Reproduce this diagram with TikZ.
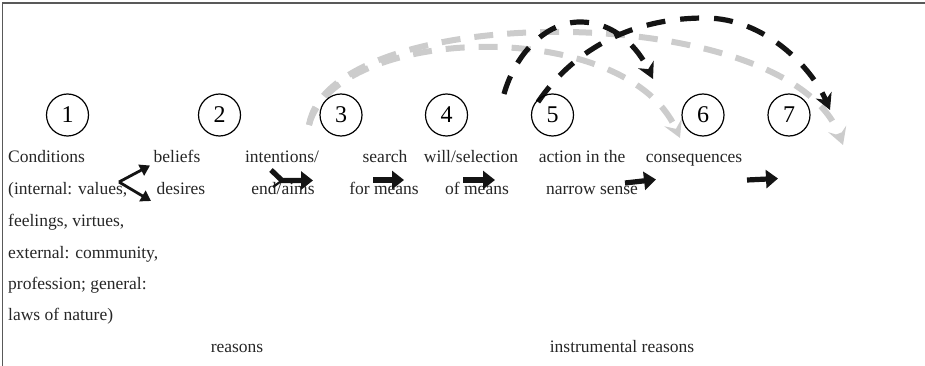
\documentclass[tikz,border=0pt]{standalone}
\usepackage{fontspec}
\setmainfont{Liberation Serif}
\usetikzlibrary{arrows.meta}
\begin{document}
\begin{tikzpicture}[x=1pt,y=-1pt,
  lbl/.style={inner sep=0pt, font=\fontsize{17.5}{21}\selectfont, text=black!85},
  num/.style={circle, draw, line width=1.2pt, minimum size=42pt, inner sep=0pt,
    font=\fontsize{24}{28}\selectfont},
  thickarr/.style={line width=5.2pt, draw=black!92, -{Triangle[length=12pt,width=18pt]}},
  thinarr/.style={line width=2.8pt, draw=black!92, -{Triangle[length=10pt,width=12pt]}},
  grayarc/.style={draw=black!20, line width=6pt, dash pattern=on 19pt off 14pt,
    -{Stealth[length=17pt,width=19pt,inset=7pt]}},
  blackarc/.style={draw=black!92, line width=5.2pt, dash pattern=on 19pt off 15pt,
    -{Stealth[length=16pt,width=17pt,inset=5pt]}},
]
\useasboundingbox (0,0) rectangle (925,366);
% frame
\draw[black!65, line width=1.3pt] (2.5,366) -- (2.5,3) -- (925,3);

% curved dashed connectors (drawn first, beneath the stage circles)
\coordinate (g0) at (309,125);
\coordinate (g1) at (680,138);
\coordinate (g2) at (843,145);
\coordinate (b0) at (504,94);
\coordinate (b1) at (653,79);
\coordinate (k0) at (538,102);
\coordinate (k1) at (830,110);

\draw[grayarc] (g0) .. controls (335,25) and (625,15) .. (g1);
\draw[grayarc] (g0) .. controls (330,0) and (790,-2) .. (g2);
\draw[blackarc] (b0) .. controls (515,55) and (545,22) .. (580,22)
  .. controls (615,22) and (638,48) .. (b1);
\draw[blackarc] (k0) .. controls (570,55) and (625,18) .. (705,18)
  .. controls (765,18) and (812,68) .. (k1);

% numbered stages
\node[num] (n1) at (67.5,115) {1};
\node[num] (n2) at (219.5,115) {2};
\node[num] (n3) at (341,115) {3};
\node[num] (n4) at (446.5,115) {4};
\node[num] (n5) at (552.5,115) {5};
\node[num] (n6) at (703,115) {6};
\node[num] (n7) at (789,115) {7};

% first column
\node[lbl, anchor=base west] (c1) at (8,162.5) {Conditions};
\node[lbl, anchor=base west] (c2) at (8,194) {(internal: values,};
\node[lbl, anchor=base west] (c3) at (8,226) {feelings, virtues,};
\node[lbl, anchor=base west] (c4) at (8,258) {external: community,};
\node[lbl, anchor=base west] (c5) at (8,289) {profession; general:};
\node[lbl, anchor=base west] (c6) at (8,320) {laws of nature)};

% stage labels
\node[lbl, anchor=base] (beliefs) at (177,162.5) {beliefs};
\node[lbl, anchor=base] (desires) at (181,194) {desires};
\node[lbl, anchor=base] (intent) at (282,162.5) {intentions/};
\node[lbl, anchor=base] (aims) at (283,194) {end/aims};
\node[lbl, anchor=base] (search) at (385,162.5) {search};
\node[lbl, anchor=base] (formeans) at (384,194) {for means};
\node[lbl, anchor=base] (will) at (471,162.5) {will/selection};
\node[lbl, anchor=base] (ofmeans) at (477,194) {of means};
\node[lbl, anchor=base] (action) at (582,162.5) {action in the};
\node[lbl, anchor=base] (narrow) at (592,194) {narrow sense};
\node[lbl, anchor=base] (conseq) at (694,162.5) {consequences};
\node[lbl, anchor=base] (reasons) at (237,352) {reasons};
\node[lbl, anchor=base] (instr) at (622,352) {instrumental reasons};

% arrow end points
\coordinate (s0) at (119,182);
\coordinate (s1) at (150,165.5);
\coordinate (s2) at (151,201);
\coordinate (t0) at (271,170);
\coordinate (t1) at (282,180.5);
\coordinate (t2) at (313,180.5);
\coordinate (t3) at (273,187);
\coordinate (u0) at (373,180);
\coordinate (u1) at (404,180);
\coordinate (v0) at (463,180);
\coordinate (v1) at (495,180);
\coordinate (w0) at (625,183);
\coordinate (w1) at (656,179.5);
\coordinate (x0) at (747,180);
\coordinate (x1) at (778,178.5);

% straight arrows
\draw[thinarr] (s0) -- (s1);
\draw[thinarr] (s0) -- (s2);
\draw[thickarr] (t0) -- (t1) -- (t2);
\draw[line width=2.2pt, black!92] (t3) -- (t1);
\draw[thickarr] (u0) -- (u1);
\draw[thickarr] (v0) -- (v1);
\draw[thickarr] (w0) -- (w1);
\draw[thickarr] (x0) -- (x1);
\end{tikzpicture}
\end{document}
